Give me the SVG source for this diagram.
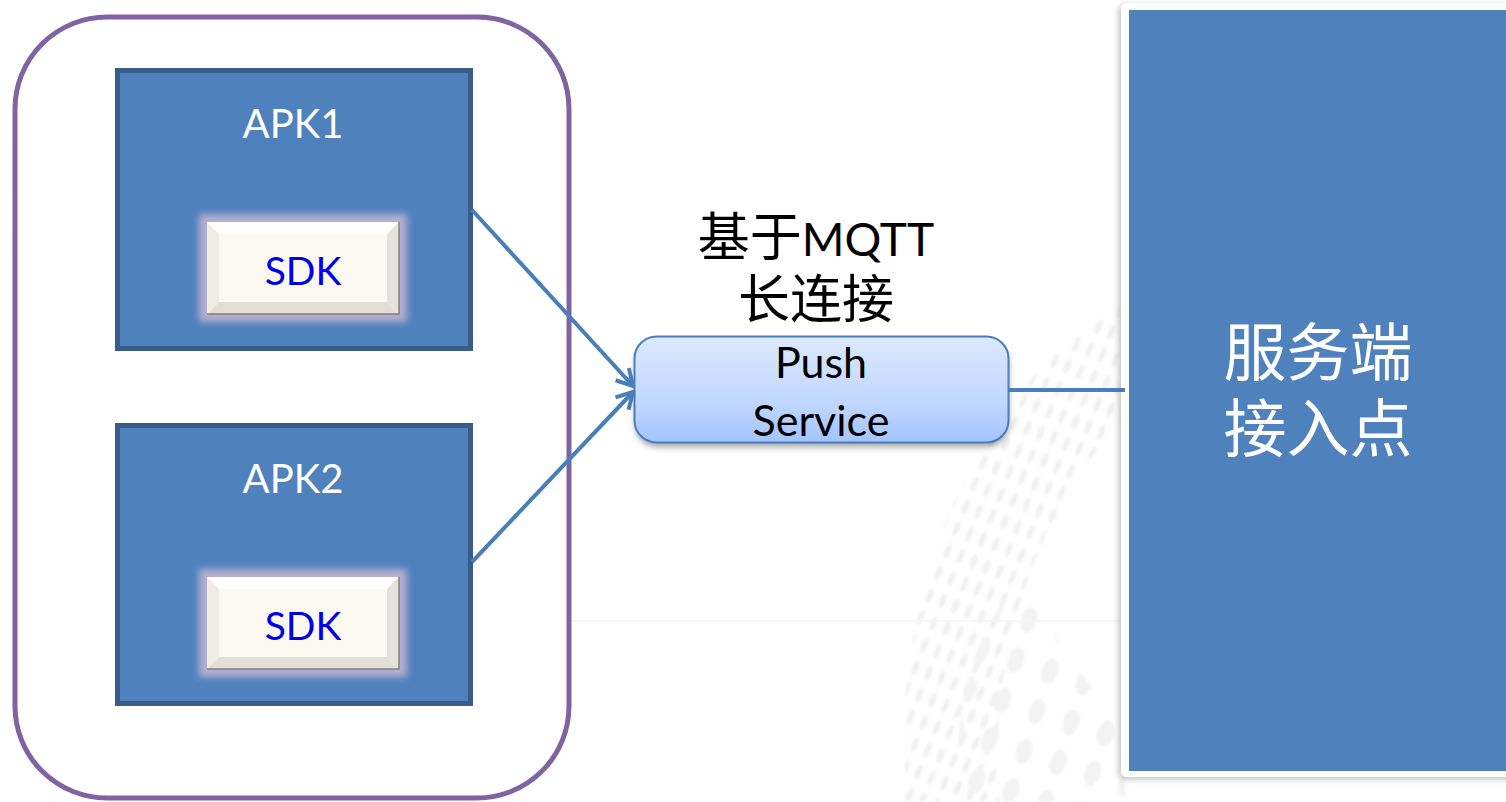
<svg xmlns="http://www.w3.org/2000/svg" width="1506" height="802" viewBox="0 0 1506 802">
<style>
.lat{font-family:Lato,"Noto Sans CJK SC",sans-serif}
.cjk{font-family:"Noto Sans CJK SC",sans-serif}
.apk{fill:#4F81BD;stroke:#385D8A;stroke-width:5}
.apkt{fill:#fff;font-size:40px;text-anchor:middle}
.sdkt{fill:#0000F0;font-size:39px;text-anchor:middle}
.conn{fill:none;stroke:#4A7EBB;stroke-width:4}
.blk{fill:#000;text-anchor:middle}
</style>
<defs>
<linearGradient id="pg" x1="0" y1="0" x2="0" y2="1"><stop offset="0" stop-color="#DCE8FE"/><stop offset=".6" stop-color="#C2D8FF"/><stop offset="1" stop-color="#A3C4FE"/></linearGradient>
<filter id="glow" x="-15%" y="-25%" width="130%" height="150%"><feGaussianBlur stdDeviation="3.500"/></filter>
<filter id="sh" x="-5%" y="-10%" width="110%" height="125%"><feGaussianBlur stdDeviation="3"/></filter>
<filter id="soft" x="-5%" y="-5%" width="110%" height="110%"><feGaussianBlur stdDeviation="1.200"/></filter>
<pattern id="dotsS" width="14" height="24" patternUnits="userSpaceOnUse" patternTransform="rotate(22)"><ellipse cx="7" cy="12" rx="3" ry="8" fill="#f1f1f1"/></pattern>
<pattern id="dotsL" width="36" height="42" patternUnits="userSpaceOnUse" patternTransform="rotate(18)"><ellipse cx="18" cy="20" rx="8" ry="13" fill="#f3f3f3"/></pattern>
<clipPath id="cs"><path d="M1125 300C1010 370 925 500 905 700V802H1000C985 660 1040 500 1125 420Z"/></clipPath>
<clipPath id="cl"><path d="M1020 580C975 630 950 710 960 802H1125V720C1080 680 1050 630 1020 580Z"/></clipPath>
<marker id="arr" viewBox="0 0 22 22" refX="20" refY="11" markerWidth="22" markerHeight="22" markerUnits="userSpaceOnUse" orient="auto"><path d="M4 2L20 11L4 20" fill="none" stroke="#4A7EBB" stroke-width="4"/></marker>
</defs>
<rect width="1506" height="802" fill="#fff"/>
<g id="background">
<g filter="url(#soft)">
<rect x="900" y="290" width="225" height="512" fill="url(#dotsS)" clip-path="url(#cs)"/>
<rect x="950" y="570" width="175" height="232" fill="url(#dotsL)" clip-path="url(#cl)"/>
</g>
<path d="M570 621H1125" stroke="#f6f6f6" stroke-width="1.500"/>
</g>
<g id="device-frame"><rect x="15" y="17" width="554" height="781" rx="92" fill="none" stroke="#8064A2" stroke-width="5"/></g>
<g id="apk1">
<rect class="apk" x="117.500" y="70.500" width="353" height="278"/>
<text class="apkt lat" x="293" y="138">APK1</text>
</g>
<g id="sdk1">
<rect x="199" y="214" width="208" height="108" fill="#B5AFD0" filter="url(#glow)"/>
<rect x="207" y="222" width="192" height="92" fill="#FCFAF0"/>
<path d="M207 222H399L387 234H219Z" fill="#fff"/>
<path d="M207 314H399L387 302H219Z" fill="#E2E0D6"/>
<path d="M207 222V314L219 302V234Z" fill="#EFEDE3"/>
<path d="M399 222V314L387 302V234Z" fill="#E5E3D9"/>
<path d="M207 314H399V222" fill="none" stroke="#80807C" stroke-width="1.500"/>
<text class="sdkt lat" x="303" y="285">SDK</text>
</g>
<g id="apk2">
<rect class="apk" x="117.500" y="425.500" width="353" height="278"/>
<text class="apkt lat" x="293" y="493">APK2</text>
</g>
<g id="sdk2">
<rect x="199" y="569" width="208" height="108" fill="#B5AFD0" filter="url(#glow)"/>
<rect x="207" y="577" width="192" height="92" fill="#FCFAF0"/>
<path d="M207 577H399L387 589H219Z" fill="#fff"/>
<path d="M207 669H399L387 657H219Z" fill="#E2E0D6"/>
<path d="M207 577V669L219 657V589Z" fill="#EFEDE3"/>
<path d="M399 577V669L387 657V589Z" fill="#E5E3D9"/>
<path d="M207 669H399V577" fill="none" stroke="#80807C" stroke-width="1.500"/>
<text class="sdkt lat" x="303" y="640">SDK</text>
</g>
<g id="mqtt-label">
<text class="blk lat" font-size="46" x="816" y="256"><tspan class="cjk" font-size="52">基于</tspan>MQTT</text>
<text class="blk cjk" font-size="52" x="816" y="318">长连接</text>
</g>
<g id="push-service">
<rect x="635" y="342" width="374" height="105" rx="22" fill="#000" opacity=".35" filter="url(#sh)"/>
<rect x="634.500" y="336.500" width="374" height="106" rx="22" fill="url(#pg)" stroke="#4A7EBB" stroke-width="2"/>
<text class="blk lat" font-size="43" x="821" y="378">Push</text>
<text class="blk lat" font-size="43" x="821" y="436">Service</text>
</g>
<g id="server">
<rect x="1119" y="5" width="400" height="774" rx="5" fill="#bbb" filter="url(#sh)"/>
<rect x="1121" y="3" width="400" height="774" rx="5" fill="#fff"/>
<rect x="1129" y="10" width="377" height="761" fill="#4F81BD"/>
<text class="cjk" font-size="63" fill="#fff" text-anchor="middle" x="1318" y="375">服务端</text>
<text class="cjk" font-size="63" fill="#fff" text-anchor="middle" x="1318" y="451">接入点</text>
</g>
<g id="connectors">
<path class="conn" d="M472 210L633 386" marker-end="url(#arr)"/>
<path class="conn" d="M472 562L633 392" marker-end="url(#arr)"/>
<path class="conn" d="M1009 390H1125"/>
</g>
</svg>
